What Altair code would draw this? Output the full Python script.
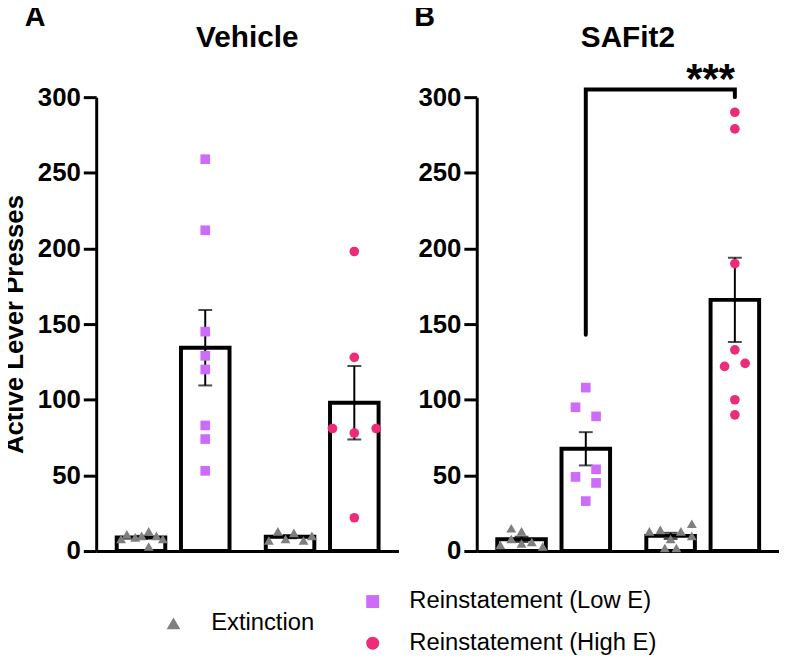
import altair as alt
import pandas as pd

panels = ["Vehicle", "SAFit2"]
letters = ["A", "B"]
phases = ["Extinction", "Reinstatement (Low E)", "Extinction", "Reinstatement (High E)"]
positions = [0.62, 1.62, 2.94, 3.94]

# values per bar and horizontal scatter offsets (x units)
veh_ext1 = [8, 11, 9, 10, 13, 3, 10, 8]
veh_ext1_jit = [-0.31, -0.22, -0.09, 0.01, 0.12, 0.12, 0.24, 0.34]
veh_low = [259, 212, 145, 129, 120, 83, 74, 53]
veh_low_jit = [0, 0, 0, 0, 0, 0, 0, 0]
veh_ext2 = [7, 13, 8, 12, 7, 10]
veh_ext2_jit = [-0.33, -0.19, -0.07, 0.06, 0.21, 0.34]
veh_high = [198, 128, 81, 78, 81, 22]
veh_high_jit = [0, 0, -0.34, 0, 0.34, 0]

saf_ext1 = [4, 15, 8, 13, 5, 6, 3]
saf_ext1_jit = [-0.33, -0.16, -0.16, 0, 0, 0.16, 0.33]
saf_low = [108, 95, 89, 54, 49, 45, 33]
saf_low_jit = [0, -0.16, 0.16, 0.16, -0.16, 0.16, 0]
saf_ext2 = [13, 14, 8, 13, 18, 10, 2, 2]
saf_ext2_jit = [-0.33, -0.16, 0, 0.16, 0.33, 0.33, -0.09, 0.09]
saf_high = [290, 279, 190, 133, 122, 124, 100, 90]
saf_high_jit = [0, 0, 0, 0, -0.16, 0.16, 0, 0]

bracket_x = [1.62, 1.62, 3.94, 3.94]
bracket_y = [143, 305, 305, 300]
sig_label = ["***"]
sig_x = [3.94]
sig_y = [303]

GRAY = "#7f7f7f"
VIOLET = "#cd6bfa"
PINK = "#ec2c79"

series = {
    "Vehicle": [(veh_ext1, veh_ext1_jit), (veh_low, veh_low_jit), (veh_ext2, veh_ext2_jit), (veh_high, veh_high_jit)],
    "SAFit2": [(saf_ext1, saf_ext1_jit), (saf_low, saf_low_jit), (saf_ext2, saf_ext2_jit), (saf_high, saf_high_jit)],
}

rows = []
for pname, groups in series.items():
    for gi, (vals, jits) in enumerate(groups):
        for v, j in zip(vals, jits):
            rows.append({"panel": pname, "phase": phases[gi], "pos": positions[gi],
                         "px": positions[gi] + j, "value": v})
df = pd.DataFrame(rows)

W, H = 305, 458
xscale = alt.Scale(domain=[0, 4.55], nice=False, zero=False)
yscale = alt.Scale(domain=[0, 300], nice=False)
xaxis = alt.Axis(labels=False, ticks=False, title=None, grid=False,
                 domainWidth=3, domainColor="black")

leg_ext = alt.Legend(title=None, orient="none", legendX=66, legendY=519, padding=0,
                     labelFont="Liberation Sans", labelFontSize=24, labelColor="black",
                     labelLimit=400, symbolSize=190, symbolStrokeWidth=0, labelOffset=26,
                     symbolType="triangle-up")
leg_re = alt.Legend(title=None, orient="none", legendX=267, legendY=497, padding=0,
                    labelFont="Liberation Sans", labelFontSize=24, labelColor="black",
                    labelLimit=400, symbolSize=170, symbolStrokeWidth=0, labelOffset=25,
                    rowPadding=18)


def yaxis(with_title):
    kw = dict(values=[0, 50, 100, 150, 200, 250, 300], grid=False,
              labelFont="Liberation Sans", labelFontSize=26, labelFontWeight="bold",
              labelColor="black", labelPadding=3, tickSize=13, tickWidth=3,
              tickColor="black", domainWidth=3, domainColor="black")
    if with_title:
        kw.update(title="Active Lever Presses", titleFont="Liberation Sans", titleFontSize=26,
                  titleFontWeight="bold", titleColor="black", titleAngle=270,
                  titleAlign="center", titleBaseline="alphabetic", titleX=-74)
    else:
        kw.update(title=None)
    return alt.Axis(**kw)


def panel(i):
    name = panels[i]
    d = df[df.panel == name]
    base = alt.Chart(d)
    ya = yaxis(i == 0)
    bars = base.mark_bar(size=49, fill="white", stroke="black", strokeWidth=4).encode(
        x=alt.X("pos:Q", scale=xscale, axis=xaxis),
        y=alt.Y("mean(value):Q", scale=yscale, axis=ya),
    )
    err = base.transform_aggregate(
        m="mean(value)", s="stdev(value)", n="count()", groupby=["pos"]
    ).transform_calculate(
        lo="datum.m - datum.s / sqrt(datum.n)", hi="datum.m + datum.s / sqrt(datum.n)"
    ).mark_errorbar(ticks=True, size=14, thickness=2, color="black").encode(
        x=alt.X("pos:Q", scale=xscale, axis=xaxis),
        y=alt.Y("lo:Q", scale=yscale, axis=ya),
        y2="hi:Q",
    )
    tri = base.transform_filter(alt.datum.phase == "Extinction").mark_point(
        shape="triangle-up", filled=True, size=100, opacity=1, strokeWidth=0
    ).encode(
        x=alt.X("px:Q", scale=xscale, axis=xaxis),
        y=alt.Y("value:Q", scale=yscale, axis=ya),
        fill=alt.Fill("phase:N", scale=alt.Scale(domain=["Extinction"], range=[GRAY]), legend=leg_ext),
    )
    re_dom = ["Reinstatement (Low E)", "Reinstatement (High E)"]
    rein = base.transform_filter(alt.datum.phase != "Extinction").mark_point(
        filled=True, size=95, opacity=1, strokeWidth=0
    ).encode(
        x=alt.X("px:Q", scale=xscale, axis=xaxis),
        y=alt.Y("value:Q", scale=yscale, axis=ya),
        color=alt.Color("phase:N", scale=alt.Scale(domain=re_dom, range=[VIOLET, PINK]), legend=leg_re),
        shape=alt.Shape("phase:N", scale=alt.Scale(domain=re_dom, range=["square", "circle"]), legend=leg_re),
    )
    ttl = alt.Chart(pd.DataFrame({"t": [name]})).mark_text(
        font="Liberation Sans", fontSize=30, fontWeight="bold", color="black",
        align="center", baseline="alphabetic"
    ).encode(text="t:N", x=alt.value(W / 2), y=alt.value(-51))
    let = alt.Chart(pd.DataFrame({"t": [letters[i]]})).mark_text(
        font="Liberation Sans", fontSize=29, fontWeight="bold", color="black",
        align="left", baseline="alphabetic"
    ).encode(text="t:N", x=alt.value(-72 if i == 0 else -63), y=alt.value(-72))
    layers = [bars, err, tri, rein, ttl, let]
    if i == 1:
        br = alt.Chart(pd.DataFrame({"x": bracket_x, "y": bracket_y, "k": [0, 1, 2, 3]})).mark_line(
            color="black", strokeWidth=4, strokeCap="round", strokeJoin="miter"
        ).encode(
            x=alt.X("x:Q", scale=xscale, axis=xaxis),
            y=alt.Y("y:Q", scale=yscale, axis=ya),
            order="k:Q",
        )
        sig = alt.Chart(pd.DataFrame({"t": sig_label, "x": sig_x, "y": sig_y})).mark_text(
            font="Liberation Sans", fontSize=42, fontWeight="bold", color="black",
            align="right", baseline="alphabetic"
        ).encode(
            text="t:N",
            x=alt.X("x:Q", scale=xscale, axis=xaxis),
            y=alt.Y("y:Q", scale=yscale, axis=ya),
        )
        layers += [br, sig]
    return alt.layer(*layers).properties(width=W, height=H)


chart = alt.hconcat(panel(0), panel(1), spacing=16).resolve_scale(
    color="shared", shape="shared", fill="shared"
).properties(
    padding={"left": -6, "top": -8, "right": 0, "bottom": 0}
).configure_view(stroke=None)

chart.save("out.html", embed_options={"renderer": "svg", "actions": False})
